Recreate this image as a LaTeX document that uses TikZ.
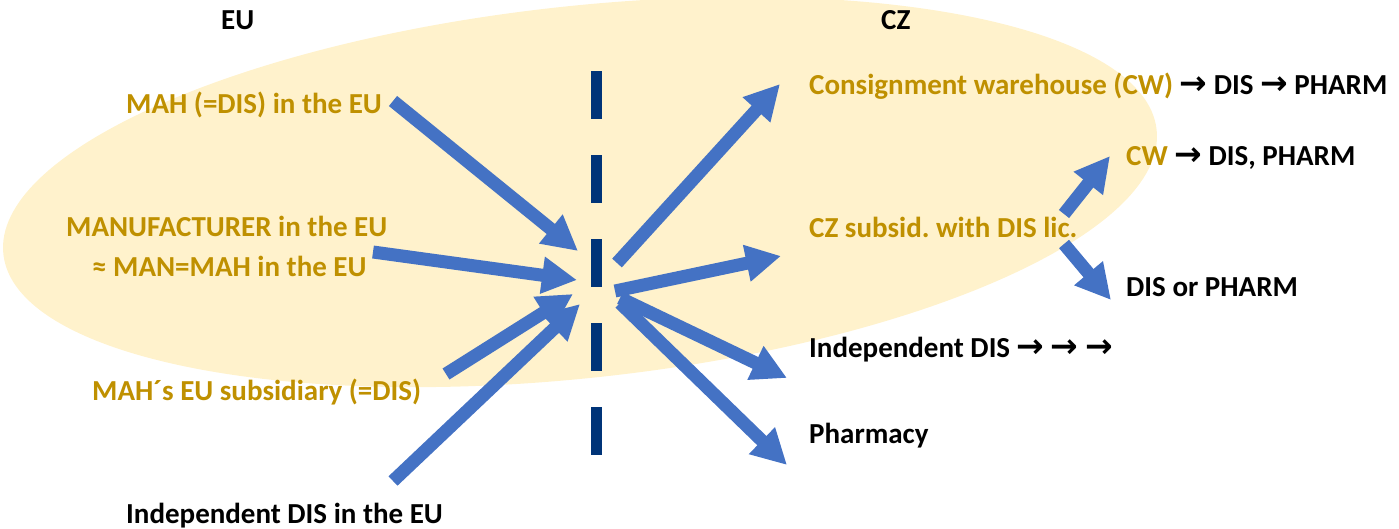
\documentclass[tikz,border=0pt]{standalone}
\usepackage{fontspec}
\setmainfont{Carlito}
\newfontfamily\arr{DejaVu Sans}
\usetikzlibrary{arrows.meta}
\definecolor{gold}{RGB}{191,144,0}
\definecolor{pale}{RGB}{255,242,204}
\definecolor{ablue}{RGB}{68,114,196}
\definecolor{navy}{RGB}{0,52,120}
\newcommand{\ra}{{\arr\bfseries\fontsize{33}{36}\selectfont →}}
\tikzset{
 lbl/.style={font=\bfseries\fontsize{29}{34}\selectfont, inner sep=0pt, anchor=base west, text=black},
 glbl/.style={lbl, text=gold},
 flow/.style={draw=ablue, line width=13pt, line cap=butt, -{Triangle[length=35pt,width=35pt]}},
 divider/.style={draw=navy, line width=11pt, dash pattern=on 48pt off 36pt},
}
\frenchspacing
\begin{document}
\begin{tikzpicture}[x=1pt,y=-1pt]
\useasboundingbox (0,0) rectangle (1399,528);
\fill[pale, rotate around={6.15:(580,192)}] (580,192) ellipse [x radius=580, y radius=186];

\coordinate (dtop) at (596,71);
\coordinate (dbot) at (596,455);
\draw[divider] (dtop) -- (dbot);

\node[lbl] (eu) at (221,29) {EU};
\node[lbl] (cz) at (881,29) {CZ};

\node[glbl] (mah) at (126,113) {MAH (=DIS) in the EU};
\node[glbl] (man) at (66,236) {MANUFACTURER in the EU};
\node[glbl] (man2) at (92,276) {≈ MAN=MAH in the EU};
\node[glbl] (sub) at (92,400) {MAH´s EU subsidiary (=DIS)};
\node[lbl] (ind) at (126,523) {Independent DIS in the EU};

\node[glbl] (cons) at (809,94) {Consignment warehouse (CW) \textcolor{black}{\ra{} DIS \ra{} PHARM}};
\node[glbl] (cw) at (1126,165) {CW \textcolor{black}{\ra{} DIS, PHARM}};
\node[glbl] (czs) at (809,237) {CZ subsid. with DIS lic.};
\node[lbl] (dor) at (1126,296) {DIS or PHARM};
\node[lbl] (indcz) at (809,357) {Independent DIS \ra{} \ra{} \ra};
\node[lbl] (ph) at (809,443) {Pharmacy};

% incoming
\coordinate (t1) at (393,101); \coordinate (h1) at (578,251);
\coordinate (t2) at (373,252); \coordinate (h2) at (577,280);
\coordinate (t3) at (446,374); \coordinate (h3) at (573,294);
\coordinate (t4) at (393,481); \coordinate (h4) at (580,304);
% outgoing
\coordinate (t5) at (617,263); \coordinate (h5) at (780,84);
\coordinate (t6) at (615,291); \coordinate (h6) at (781,256);
\coordinate (t7) at (620,298); \coordinate (h7) at (787,378);
\coordinate (t8) at (620,303); \coordinate (h8) at (787,465);
% from CZ subsidiary
\coordinate (t9) at (1064,214); \coordinate (h9) at (1110,156);
\coordinate (t10) at (1064,244); \coordinate (h10) at (1111,300);

\foreach \i in {1,...,10} \draw[flow] (t\i) -- (h\i);
\end{tikzpicture}
\end{document}
